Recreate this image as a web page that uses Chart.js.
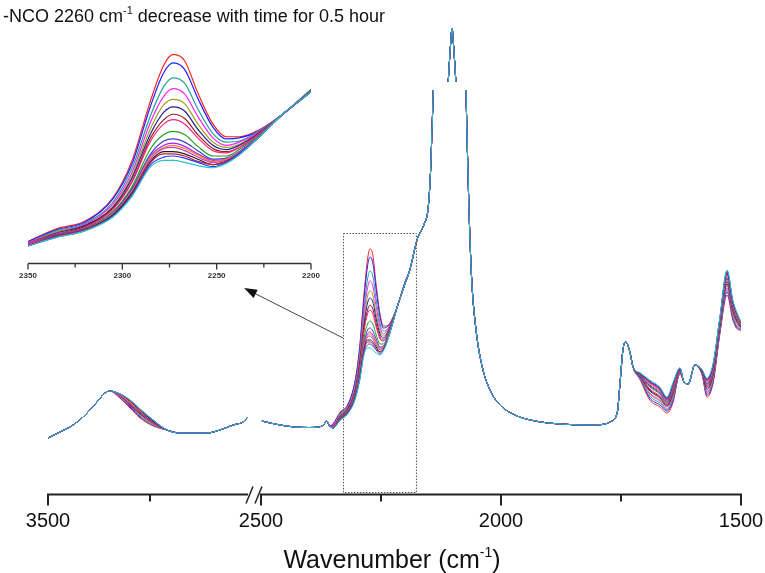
<!DOCTYPE html>
<html>
<head>
<meta charset="utf-8">
<script src="https://cdn.jsdelivr.net/npm/chart.js@4.4.1/dist/chart.umd.min.js"></script>
<style>
  body { margin: 0; background: #fff; }
  #wrap { position: relative; width: 765px; height: 573px; }
  #main-chart, #inset-chart { position: absolute; left: 0; top: 0; }
</style>
</head>
<body>
<div id="wrap">
  <canvas id="main-chart" width="765" height="573"></canvas>
  <canvas id="inset-chart" width="330" height="290"></canvas>
</div>
<script>
// Scan colours, first scan (highest NCO) to last
const seriesColors = ['#ff2020', '#2020ff', '#20a0a0', '#ff20ff', '#a0a020', '#202090', '#902020', '#ff2080',
                      '#20a020', '#4040c0', '#a020ff', '#ff8020', '#c040c0', '#202020', '#c02040', '#2040ff', '#30c0c0'];
const scanLabels = seriesColors.map((c, i) => 'scan ' + (i + 1));

// Parts that are the same for every scan
const leftWn  = [3500, 3441, 3377, 3328, 3260, 3221, 3196, 2917, 2853, 2789, 2721, 2657, 2593, 2544, 2520];
const leftAbs = [0.56, 0.62, 0.69, 0.77, 0.92, 1.01, 1.03, 0.64, 0.61, 0.61, 0.61, 0.64, 0.69, 0.72, 0.77];

const rightWn  = [2498, 2490, 2460, 2430, 2400, 2380, 2370, 2363, 2357, 2190, 2175, 2160, 2152, 2147, 2144, 2141,
                  2125, 2110, 2105, 2102, 2099, 2094, 2085, 2073, 2070, 2066, 2061, 2052, 2040, 2023, 2002, 1971,
                  1929, 1877, 1815, 1783, 1773, 1758, 1752, 1746, 1740, 1731, 1725, 1619, 1610, 1596];
const rightAbs = [0.73, 0.72, 0.69, 0.67, 0.665, 0.67, 0.69, 0.73, 0.68, 2.24, 2.54, 2.70, 2.85, 3.2, 3.6, 4.04,
                  null, 4.12, 4.50, 4.66, 4.50, 4.12, null, 4.04, 3.44, 2.74, 2.14, 1.64, 1.29, 1.04, 0.89, 0.79,
                  0.73, 0.70, 0.69, 0.70, 0.72, 0.81, 1.11, 1.44, 1.52, 1.41, 1.27, 1.12, 1.10, 1.29];

// N-H hump, humpAbs[point][scan]
const humpWn = [3147, 3098, 3049, 2985];
const humpAbs = [
  [0.96, 0.96, 0.97, 0.97, 0.97, 0.98, 0.98, 0.98, 0.99, 0.99, 0.99, 0.99, 0.99, 1.00, 1.00, 1.00, 1.00],
  [0.86, 0.87, 0.88, 0.88, 0.89, 0.89, 0.90, 0.90, 0.91, 0.92, 0.92, 0.92, 0.93, 0.93, 0.93, 0.94, 0.94],
  [0.76, 0.77, 0.78, 0.79, 0.79, 0.80, 0.81, 0.81, 0.82, 0.82, 0.83, 0.83, 0.84, 0.84, 0.84, 0.85, 0.85],
  [0.68, 0.69, 0.69, 0.70, 0.70, 0.71, 0.71, 0.71, 0.72, 0.72, 0.72, 0.73, 0.73, 0.73, 0.74, 0.74, 0.74]
];

// -NCO band, ncoAbs[scan][point]
const ncoWn = [2350, 2335, 2320, 2305, 2295, 2285, 2278, 2273, 2267, 2260, 2252, 2245, 2238, 2228, 2215, 2200];
const ncoAbs = [
  [0.70, 0.82, 0.89, 1.11, 1.45, 2.02, 2.35, 2.45, 2.39, 2.09, 1.80, 1.68, 1.68, 1.74, 1.89, 2.12],
  [0.70, 0.81, 0.88, 1.10, 1.42, 1.97, 2.28, 2.37, 2.31, 2.04, 1.77, 1.66, 1.67, 1.73, 1.89, 2.12],
  [0.69, 0.80, 0.87, 1.07, 1.38, 1.88, 2.15, 2.23, 2.18, 1.94, 1.71, 1.63, 1.64, 1.73, 1.89, 2.12],
  [0.69, 0.79, 0.86, 1.05, 1.34, 1.82, 2.06, 2.13, 2.08, 1.87, 1.67, 1.60, 1.63, 1.72, 1.89, 2.11],
  [0.68, 0.79, 0.85, 1.03, 1.31, 1.76, 1.98, 2.03, 1.99, 1.80, 1.63, 1.58, 1.61, 1.71, 1.89, 2.11],
  [0.68, 0.78, 0.85, 1.02, 1.29, 1.71, 1.91, 1.96, 1.92, 1.75, 1.60, 1.56, 1.60, 1.71, 1.89, 2.11],
  [0.68, 0.77, 0.84, 1.01, 1.26, 1.67, 1.84, 1.89, 1.85, 1.70, 1.57, 1.54, 1.58, 1.70, 1.89, 2.11],
  [0.68, 0.77, 0.83, 1.00, 1.25, 1.64, 1.80, 1.84, 1.80, 1.67, 1.55, 1.53, 1.58, 1.70, 1.89, 2.11],
  [0.67, 0.76, 0.82, 0.98, 1.21, 1.57, 1.70, 1.73, 1.70, 1.59, 1.50, 1.50, 1.56, 1.69, 1.89, 2.11],
  [0.67, 0.76, 0.82, 0.97, 1.19, 1.52, 1.64, 1.66, 1.63, 1.55, 1.47, 1.48, 1.54, 1.68, 1.89, 2.10],
  [0.67, 0.75, 0.81, 0.96, 1.17, 1.50, 1.60, 1.62, 1.59, 1.52, 1.46, 1.47, 1.54, 1.68, 1.89, 2.10],
  [0.67, 0.75, 0.81, 0.96, 1.17, 1.49, 1.58, 1.60, 1.57, 1.51, 1.45, 1.47, 1.53, 1.68, 1.89, 2.10],
  [0.67, 0.75, 0.81, 0.95, 1.16, 1.47, 1.57, 1.58, 1.55, 1.49, 1.44, 1.46, 1.53, 1.68, 1.89, 2.10],
  [0.66, 0.75, 0.81, 0.95, 1.15, 1.45, 1.54, 1.54, 1.52, 1.47, 1.42, 1.45, 1.52, 1.67, 1.89, 2.10],
  [0.66, 0.75, 0.81, 0.94, 1.14, 1.44, 1.52, 1.52, 1.50, 1.45, 1.42, 1.45, 1.52, 1.67, 1.89, 2.10],
  [0.66, 0.74, 0.80, 0.94, 1.13, 1.42, 1.49, 1.50, 1.48, 1.44, 1.40, 1.44, 1.52, 1.67, 1.89, 2.10],
  [0.66, 0.74, 0.80, 0.93, 1.12, 1.40, 1.46, 1.46, 1.44, 1.41, 1.39, 1.43, 1.51, 1.67, 1.89, 2.10]
];

// amide region, amideAbs[point][scan]
const amideWn = [1710, 1690, 1669, 1654, 1642, 1627, 1581, 1571, 1558, 1544, 1529, 1517, 1504, 1500];
const amideAbs = [
  [1.14, 1.15, 1.15, 1.16, 1.17, 1.17, 1.18, 1.18, 1.18, 1.19, 1.19, 1.20, 1.20, 1.20, 1.20, 1.21, 1.21],
  [0.94, 0.96, 0.98, 1.00, 1.01, 1.03, 1.04, 1.05, 1.07, 1.08, 1.09, 1.10, 1.11, 1.12, 1.12, 1.13, 1.14],
  [0.87, 0.89, 0.91, 0.93, 0.94, 0.96, 0.97, 0.98, 1.00, 1.01, 1.02, 1.03, 1.04, 1.05, 1.05, 1.06, 1.07],
  [0.81, 0.83, 0.84, 0.85, 0.87, 0.88, 0.89, 0.90, 0.91, 0.92, 0.93, 0.94, 0.94, 0.95, 0.96, 0.96, 0.97],
  [0.91, 0.93, 0.95, 0.97, 0.98, 1.00, 1.01, 1.02, 1.04, 1.05, 1.06, 1.07, 1.08, 1.09, 1.09, 1.10, 1.11],
  [1.20, 1.21, 1.21, 1.22, 1.22, 1.23, 1.23, 1.23, 1.24, 1.24, 1.24, 1.25, 1.25, 1.25, 1.26, 1.26, 1.26],
  [1.19, 1.20, 1.20, 1.20, 1.21, 1.21, 1.22, 1.22, 1.22, 1.22, 1.23, 1.23, 1.23, 1.23, 1.24, 1.24, 1.24],
  [0.97, 0.99, 1.01, 1.02, 1.04, 1.05, 1.07, 1.08, 1.09, 1.10, 1.11, 1.12, 1.13, 1.14, 1.14, 1.15, 1.16],
  [1.11, 1.13, 1.15, 1.17, 1.18, 1.20, 1.21, 1.22, 1.24, 1.25, 1.26, 1.27, 1.28, 1.29, 1.29, 1.30, 1.31],
  [1.60, 1.62, 1.63, 1.65, 1.66, 1.67, 1.69, 1.70, 1.71, 1.72, 1.73, 1.73, 1.74, 1.75, 1.76, 1.76, 1.77],
  [1.99, 2.02, 2.04, 2.06, 2.08, 2.10, 2.12, 2.13, 2.15, 2.16, 2.18, 2.19, 2.20, 2.21, 2.22, 2.23, 2.24],
  [1.74, 1.76, 1.78, 1.80, 1.81, 1.83, 1.84, 1.85, 1.87, 1.88, 1.89, 1.90, 1.91, 1.92, 1.92, 1.93, 1.94],
  [1.64, 1.65, 1.66, 1.67, 1.68, 1.69, 1.70, 1.71, 1.72, 1.72, 1.73, 1.73, 1.74, 1.75, 1.75, 1.76, 1.76],
  [1.64, 1.65, 1.66, 1.66, 1.67, 1.67, 1.68, 1.68, 1.69, 1.70, 1.70, 1.70, 1.71, 1.71, 1.71, 1.72, 1.72]
];

// axis ticks
const majorTicks = [3500, 2500, 2000, 1500];
const minorTicks = [3000, 2250, 1750];
const insetMajor = [2350, 2300, 2250, 2200];
const insetMinor = [2325, 2275, 2225];

const FONT = '"Liberation Sans", Arial, sans-serif';

// broken axis: 3500-2500 squeezed on the left, 2500-1500 on the right
function toU(w) {
  return w > 2505 ? (3500 - w) * 0.204 : 213 + (2500 - w) * 0.48;
}

const mainDatasets = seriesColors.map((color, s) => {
  const pts = [];
  leftWn.forEach((w, k) => pts.push([w, leftAbs[k]]));
  humpWn.forEach((w, k) => pts.push([w, humpAbs[k][s]]));
  pts.push([2510, null]); // the break
  rightWn.forEach((w, k) => pts.push([w, rightAbs[k]]));
  ncoWn.forEach((w, k) => pts.push([w, ncoAbs[s][k]]));
  amideWn.forEach((w, k) => pts.push([w, amideAbs[k][s]]));
  pts.sort((a, b) => b[0] - a[0]);
  return {
    label: scanLabels[s],
    data: pts.map(p => ({ x: toU(p[0]), y: p[1] })),
    borderColor: color,
    borderWidth: 1,
    pointRadius: 0,
    cubicInterpolationMode: 'monotone',
    spanGaps: false,
    order: seriesColors.length - s
  };
});

const insetDatasets = seriesColors.map((color, s) => ({
  label: scanLabels[s],
  data: ncoWn.map((w, k) => ({ x: w, y: ncoAbs[s][k] })),
  borderColor: color,
  borderWidth: 1.2,
  pointRadius: 0,
  cubicInterpolationMode: 'monotone',
  order: seriesColors.length - s
}));

function drawSup(ctx, x, y, parts) {
  // parts: [text, size, dy]
  let cx = x;
  for (const [t, size, dy] of parts) {
    ctx.font = size + 'px ' + FONT;
    ctx.fillText(t, cx, y + dy);
    cx += ctx.measureText(t).width;
  }
}

function supWidth(ctx, parts) {
  let w = 0;
  for (const [t, size] of parts) {
    ctx.font = size + 'px ' + FONT;
    w += ctx.measureText(t).width;
  }
  return w;
}

const mainDecor = {
  id: 'mainDecor',
  afterDraw(chart) {
    const { ctx, scales: { x, y } } = chart;
    const axisY = Math.round(y.getPixelForValue(0)) + 0.5;
    const px = w => x.getPixelForValue(toU(w));
    ctx.save();

    // axis line with break
    const mid = (px(2510) + px(2500)) / 2 - 1.5;
    ctx.strokeStyle = '#222';
    ctx.lineWidth = 2;
    ctx.beginPath();
    ctx.moveTo(px(3500) - 1, axisY);
    ctx.lineTo(mid - 6, axisY);
    ctx.moveTo(mid + 6, axisY);
    ctx.lineTo(px(1500) + 1, axisY);
    ctx.stroke();
    ctx.lineWidth = 1.5;
    ctx.beginPath();
    for (const cx of [mid - 4.5, mid + 4.5]) {
      ctx.moveTo(cx + 3.5, axisY - 8);
      ctx.lineTo(cx - 3.5, axisY + 9);
    }
    ctx.stroke();

    // ticks
    ctx.lineWidth = 2;
    ctx.beginPath();
    majorTicks.forEach(w => { ctx.moveTo(px(w), axisY); ctx.lineTo(px(w), axisY + 11); });
    minorTicks.forEach(w => { ctx.moveTo(px(w), axisY); ctx.lineTo(px(w), axisY + 7); });
    ctx.stroke();

    ctx.fillStyle = '#111';
    ctx.textAlign = 'center';
    ctx.textBaseline = 'alphabetic';
    ctx.font = '20px ' + FONT;
    majorTicks.forEach(w => ctx.fillText(String(w), px(w), 527));

    // axis title
    ctx.textAlign = 'left';
    const titleParts = [['Wavenumber (cm', 25, 0], ['-1', 14, -11], [')', 25, 0]];
    const tw = supWidth(ctx, titleParts);
    drawSup(ctx, 392 - tw / 2, 568, titleParts);

    // top annotation
    ctx.fillStyle = '#111';
    drawSup(ctx, 3, 22, [['-NCO 2260 cm', 18, 0], ['-1', 11, -8], [' decrease with time for 0.5 hour', 18, 0]]);

    // dotted box round the -NCO band
    const bx1 = px(2329), bx2 = px(2177);
    const by1 = y.getPixelForValue(2.61), by2 = y.getPixelForValue(0.02);
    ctx.strokeStyle = '#555';
    ctx.lineWidth = 1;
    ctx.setLineDash([1.5, 1.5]);
    ctx.strokeRect(Math.round(bx1) + 0.5, Math.round(by1) + 0.5, bx2 - bx1, by2 - by1);
    ctx.setLineDash([]);

    // arrow to the inset
    const ax1 = bx1, ay1 = y.getPixelForValue(1.56);
    const ax2 = px(2539), ay2 = y.getPixelForValue(2.06);
    const ang = Math.atan2(ay2 - ay1, ax2 - ax1);
    ctx.strokeStyle = '#444';
    ctx.beginPath();
    ctx.moveTo(ax1, ay1);
    ctx.lineTo(ax2 - Math.cos(ang) * 8, ay2 - Math.sin(ang) * 8);
    ctx.stroke();
    ctx.fillStyle = '#111';
    ctx.beginPath();
    ctx.moveTo(ax2, ay2);
    ctx.lineTo(ax2 - Math.cos(ang) * 13 + Math.sin(ang) * 4.5, ay2 - Math.sin(ang) * 13 - Math.cos(ang) * 4.5);
    ctx.lineTo(ax2 - Math.cos(ang) * 13 - Math.sin(ang) * 4.5, ay2 - Math.sin(ang) * 13 + Math.cos(ang) * 4.5);
    ctx.closePath();
    ctx.fill();

    ctx.restore();
  }
};

const insetDecor = {
  id: 'insetDecor',
  afterDraw(chart) {
    const { ctx, chartArea, scales: { x } } = chart;
    const axisY = Math.round(chartArea.bottom) + 0.5;
    ctx.save();
    ctx.strokeStyle = '#333';
    ctx.lineWidth = 1.3;
    ctx.beginPath();
    ctx.moveTo(x.getPixelForValue(2350), axisY);
    ctx.lineTo(x.getPixelForValue(2200), axisY);
    insetMajor.forEach(w => { ctx.moveTo(x.getPixelForValue(w), axisY); ctx.lineTo(x.getPixelForValue(w), axisY + 6); });
    insetMinor.forEach(w => { ctx.moveTo(x.getPixelForValue(w), axisY); ctx.lineTo(x.getPixelForValue(w), axisY + 4); });
    ctx.stroke();
    ctx.fillStyle = '#333';
    ctx.font = 'bold 8px ' + FONT;
    ctx.textAlign = 'center';
    ctx.textBaseline = 'middle';
    insetMajor.forEach(w => ctx.fillText(String(w), x.getPixelForValue(w), axisY + 12));
    ctx.restore();
  }
};

new Chart(document.getElementById('main-chart'), {
  type: 'line',
  data: { datasets: mainDatasets },
  options: {
    responsive: false,
    animation: false,
    devicePixelRatio: 1,
    layout: { padding: { left: 48, right: 24, top: 24, bottom: 79 } },
    plugins: { legend: { display: false }, tooltip: { enabled: false } },
    scales: {
      x: { type: 'linear', min: 0, max: 693, display: false },
      y: { min: 0, max: 4.7, display: false }
    }
  },
  plugins: [mainDecor]
});

new Chart(document.getElementById('inset-chart'), {
  type: 'line',
  data: { datasets: insetDatasets },
  options: {
    responsive: false,
    animation: false,
    devicePixelRatio: 1,
    layout: { padding: { left: 28, right: 19, top: 49, bottom: 27 } },
    plugins: { legend: { display: false }, tooltip: { enabled: false } },
    scales: {
      x: { type: 'linear', min: 2200, max: 2350, reverse: true, display: false },
      y: { min: 0.5, max: 2.5, display: false }
    }
  },
  plugins: [insetDecor]
});
</script>
</body>
</html>
